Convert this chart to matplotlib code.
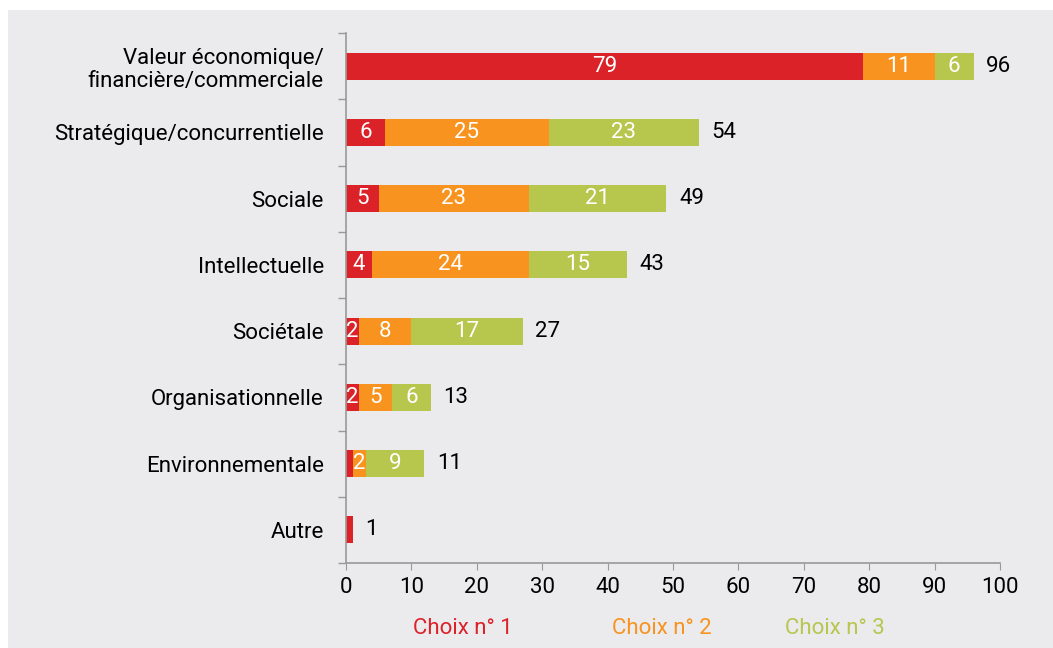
import numpy as np
import matplotlib.pyplot as plt
from matplotlib.patches import Rectangle

categories = ["Valeur économique/\nfinancière/commerciale", "Stratégique/concurrentielle",
              "Sociale", "Intellectuelle", "Sociétale", "Organisationnelle",
              "Environnementale", "Autre"]
choix1 = [79, 6, 5, 4, 2, 2, 1, 1]
choix2 = [11, 25, 23, 24, 8, 5, 2, 0]
choix3 = [6, 23, 21, 15, 17, 6, 9, 0]
totals = [96, 54, 49, 43, 27, 13, 11, 1]
series_names = ["Choix n° 1", "Choix n° 2", "Choix n° 3"]

colors = ["#DB2229", "#F7931E", "#B7C64D"]
bg = "#EBEBEE"
plt.rcParams['font.family'] = ['Roboto', 'DejaVu Sans']
fs = 16

fig = plt.figure(figsize=(10.53, 6.48), dpi=100, facecolor="white")
fig.patches.append(Rectangle((8 / 1053, 0), 1, 1 - 10 / 648, transform=fig.transFigure,
                             facecolor=bg, edgecolor="none", zorder=-10))
ax = fig.add_axes([346 / 1053, 1 - 563 / 648, 654 / 1053, 530 / 648])
ax.set_facecolor(bg)

y = np.arange(len(categories))
left = np.zeros(len(categories))
for vals, c in zip([choix1, choix2, choix3], colors):
    vals = np.array(vals, dtype=float)
    ax.barh(y, vals, left=left, height=0.41, color=c, edgecolor="none")
    for yi, l, v in zip(y, left, vals):
        if v >= 2:
            ax.text(l + v / 2, yi, f"{int(v)}", ha="center", va="center",
                    color="white", fontsize=fs)
    left += vals

for yi, l, t in zip(y, left, totals):
    ax.annotate(str(t), (l, yi), xytext=(9, 0), textcoords="offset points",
                ha="left", va="center", fontsize=fs, color="black")

ax.set_xlim(0, 100)
ax.set_ylim(len(categories) - 0.5, -0.5)
ax.set_xticks(np.arange(0, 101, 10))
ax.set_yticks(y)
ax.set_yticklabels(categories, fontsize=fs, linespacing=1.15)
ax.set_yticks(np.arange(-0.5, len(categories), 1), minor=True)
ax.tick_params(axis="y", which="major", length=0, pad=16)
ax.tick_params(axis="y", which="minor", length=6, color="#999999", width=1)
ax.tick_params(axis="x", length=5, color="#999999", labelsize=fs, pad=5)
for s in ["top", "right"]:
    ax.spines[s].set_visible(False)
for s in ["left", "bottom"]:
    ax.spines[s].set_color("#999999")
    ax.spines[s].set_linewidth(1.2)
for lbl in ax.get_yticklabels():
    lbl.set_multialignment("right")

for name, c, xp in zip(series_names, colors, [463, 662, 835]):
    fig.text(xp / 1053, 1 - 628 / 648, name, color=c, fontsize=fs, ha="center", va="center")

fig.savefig("out.png", dpi=100, facecolor=fig.get_facecolor())
